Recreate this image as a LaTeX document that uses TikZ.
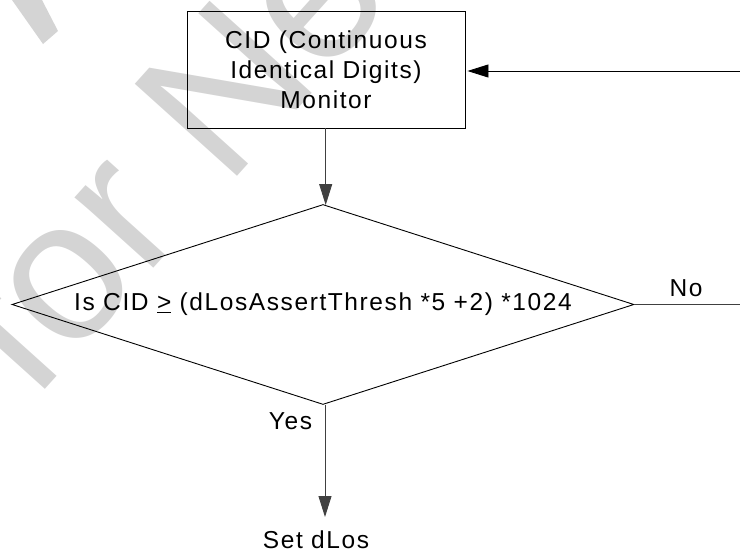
\documentclass[tikz,border=0pt]{standalone}
\usepackage{fontspec}
\setmainfont{Liberation Sans}[LetterSpace=6.5]
\usetikzlibrary{arrows.meta,shapes.geometric}
\begin{document}
\begin{tikzpicture}[x=1pt,y=-1pt,
  txt/.style={font=\fontsize{24.5}{30}\selectfont, inner sep=0pt},
  boxnode/.style={draw, line width=0.9pt, minimum width=278pt, minimum height=117pt, inner sep=0pt, align=center, txt},
  decision/.style={draw, diamond, aspect=3.1, line width=0.9pt, minimum width=622pt, minimum height=200pt, inner sep=0pt, txt},
  flow/.style={line width=0.9pt, -{Triangle[length=21pt,width=13pt]}},
  grayline/.style={draw=black!75, line width=0.9pt},
  wmcolor/.style={fill=black!17, draw=none},
  wmark/.style={text=black!17, inner sep=0pt, rotate=48, anchor=base west, font=\fontsize{200}{200}\selectfont\addfontfeature{LetterSpace=0.0}}
]
\useasboundingbox (0,0) rectangle (740,552);
\begin{scope}
  \clip (0,0) rectangle (740,552);
  \fill[wmcolor] (12,0) -- (42,0) -- (58,31) -- (43,44) -- cycle;
  \node[wmark] (wm) at (33,403) {for New Design};
\end{scope}

\node[boxnode] (cid) at (326,69.5) {CID (Continuous\\Identical Digits)\\Monitor};
\node[decision] (dec) at (323,304.5) {Is CID \underline{>} (dLosAssertThresh *5 +2) *1024};

\coordinate (inR) at (740,71);
\coordinate (noend) at (740,306);
\coordinate (yesend) at (325,517);

\draw[flow, shorten >=2pt] (inR) -- (cid.east |- inR);
\draw[flow, grayline] (cid.south -| 325.7,0) -- (325.7,205);
\draw[grayline] (dec.east) -- (noend |- dec.east);
\draw[flow, grayline] (dec.south -| yesend) -- (yesend);

\node[txt, anchor=base] (no) at (686,296) {No};
\node[txt, anchor=base] (yes) at (290.5,429) {Yes};
\node[txt, anchor=base] (setd) at (316,548) {Set dLos};
\end{tikzpicture}
\end{document}
